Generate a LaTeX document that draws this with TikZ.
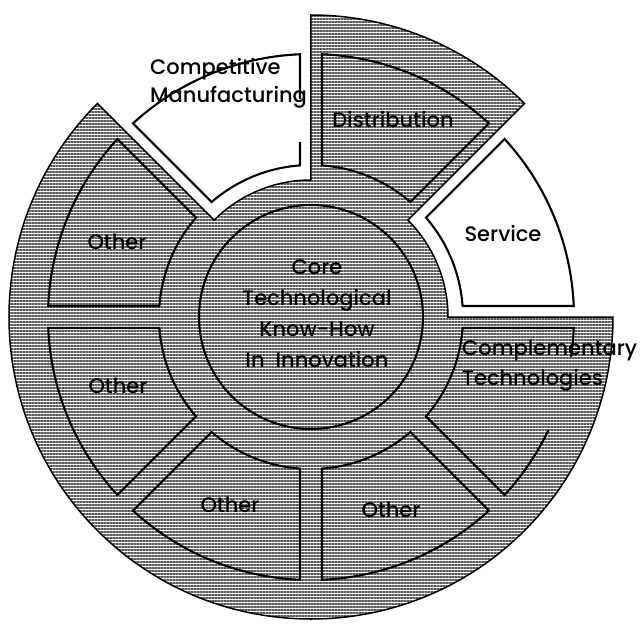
\documentclass[tikz,border=0pt]{standalone}
\usepackage{fontspec}
\setmainfont{Poppins Medium}
\usetikzlibrary{patterns.meta}
\begin{document}
\begin{tikzpicture}[x=1pt,y=1pt,
  hatch/.style={pattern={Lines[angle=0,distance=3pt,line width=1.2pt]},pattern color=black!65},
  outline/.style={line width=2.1pt,line join=miter},
  lbl/.style={inner sep=0pt,font=\fontsize{21}{28}\selectfont}]
\def\R{302}\def\rz{137}\def\rc{112}\def\ri{152}\def\ro{263}
\pgfmathsetmacro\da{asin(11/152)}
\pgfmathsetmacro\db{asin(11/263)}
\useasboundingbox (-311,-308) rectangle (332,317);
% main hatched disk with two cut-out wedges
\fill[hatch] (135:\R) arc[start angle=135,end angle=360,radius=\R]
  -- (0:\rz) arc[start angle=0,end angle=45,radius=\rz]
  -- (45:\R) arc[start angle=45,end angle=90,radius=\R]
  -- (90:\rz) arc[start angle=90,end angle=135,radius=\rz] -- cycle;
\draw[line width=1.5pt,line join=miter] (135:\R) arc[start angle=135,end angle=360,radius=\R]
  -- (0:\rz) arc[start angle=0,end angle=45,radius=\rz]
  -- (45:\R) arc[start angle=45,end angle=90,radius=\R]
  -- (90:\rz) arc[start angle=90,end angle=135,radius=\rz] -- cycle;
% core
\draw[outline] (0,0) circle[radius=\rc];
% segments
\foreach \a in {0,45,135,180,225,270}{
  \draw[outline] ({\a+\da}:\ri) -- ({\a+\db}:\ro)
    arc[start angle={\a+\db},end angle={\a+45-\db},radius=\ro]
    -- ({\a+45-\da}:\ri)
    arc[start angle={\a+45-\da},end angle={\a+\da},radius=\ri] -- cycle;
}
% Competitive Manufacturing (right edge interrupted by text)
\draw[outline] (-11,218) -- ({90+\db}:\ro)
    arc[start angle={90+\db},end angle={135-\db},radius=\ro]
    -- ({135-\da}:\ri)
    arc[start angle={135-\da},end angle={90+\da},radius=\ri] -- (-11,175);
% Complementary Technologies (outer arc interrupted by text)
\draw[outline] (-25.4:\ro) arc[start angle=-25.4,end angle={-45+\db},radius=\ro]
    -- ({-45+\da}:\ri)
    arc[start angle={-45+\da},end angle={-\da},radius=\ri]
    -- ({-\db}:\ro) arc[start angle={-\db},end angle=-8.7,radius=\ro];
% labels
\node[lbl,align=center,font=\fontsize{21}{31}\selectfont] (core) at (6,3) {Core\\Technological\\Know-How\\In\ \ Innovation};
\node[lbl,align=left,anchor=base west] (cm) at (-161,215) {Competitive\\Manufacturing};
\node[lbl] (dist) at (82,197) {Distribution};
\node[lbl] (serv) at (192,83) {Service};
\node[lbl] (o1) at (-194,75) {Other};
\node[lbl] (o2) at (-193,-69) {Other};
\node[lbl] (o3) at (-81,-188) {Other};
\node[lbl] (o4) at (80,-193) {Other};
\node[lbl,align=left,anchor=base west,font=\fontsize{21}{30}\selectfont] (ct) at (151,-68) {Complementary\\Technologies};
\end{tikzpicture}
\end{document}
